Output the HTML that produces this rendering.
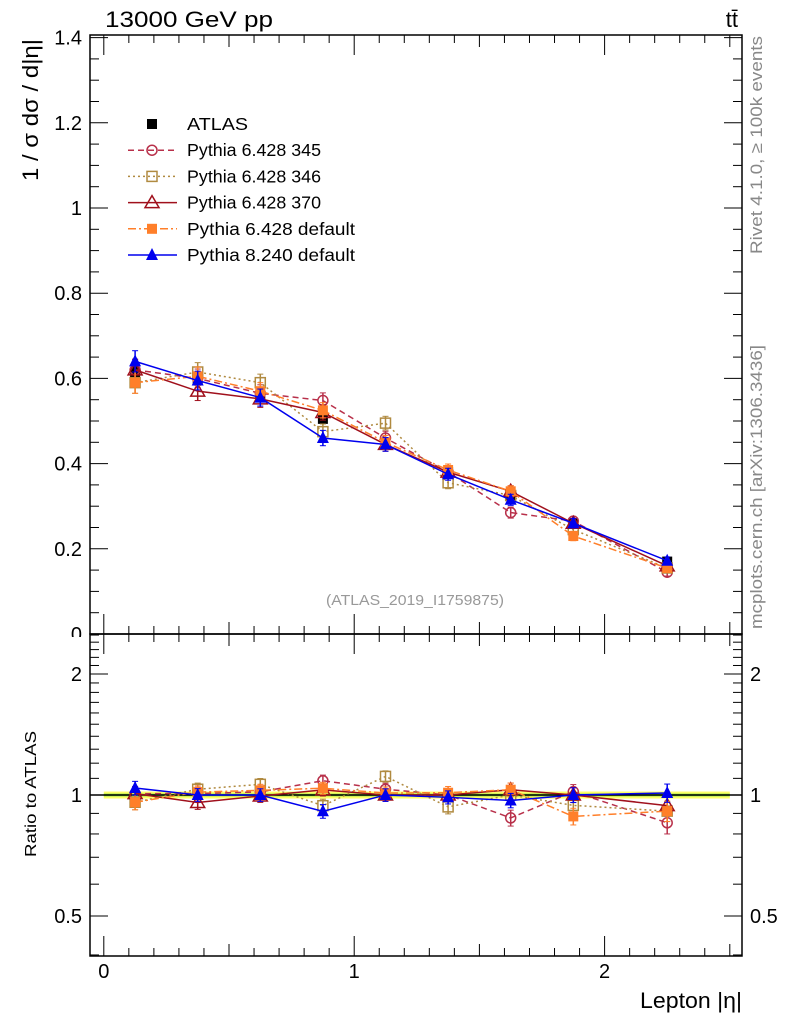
<!DOCTYPE html>
<html><head><meta charset="utf-8"><style>
body{margin:0;background:#fff;}
svg{display:block;font-family:"Liberation Sans",sans-serif;}
</style></head><body>
<svg id="chart" width="786" height="1024">
<g id="main"></g>
</svg>
<script>
const categories=[0.125,0.375,0.625,0.875,1.125,1.375,1.625,1.875,2.25];
const atlas=[0.615,0.595,0.555,0.505,0.445,0.38,0.325,0.26,0.17];
const atlasErr=[0.012,0.011,0.01,0.01,0.009,0.008,0.007,0.006,0.004];
const p345=[0.62,0.60,0.565,0.548,0.46,0.38,0.285,0.265,0.145];
const p346=[0.59,0.615,0.59,0.475,0.495,0.355,0.325,0.245,0.155];
const p370=[0.62,0.57,0.552,0.52,0.445,0.38,0.335,0.26,0.16];
const p6def=[0.59,0.605,0.57,0.525,0.45,0.385,0.335,0.23,0.155];
const p8=[0.64,0.595,0.555,0.46,0.445,0.375,0.315,0.26,0.172];
const mcErr=[0.025,0.022,0.02,0.018,0.016,0.014,0.013,0.011,0.009];
const yTicks=[0,0.2,0.4,0.6,0.8,1,1.2,1.4];
const yTickLabels=["0","0.2","0.4","0.6","0.8","1","1.2","1.4"];
const xTicks=[0,1,2];
const rTicks=[0.5,1,2];
const rTickLabels=["0.5","1","2"];

const NS="http://www.w3.org/2000/svg";
const svg=document.getElementById('main');
const L=90,R=742,T=35,M=634,B=956;
const X=v=>103.8+v*250.4;
const Y=v=>634-v*426;
const RY=r=>795-121*Math.log2(r);
function el(tag,attrs,parent){const e=document.createElementNS(NS,tag);for(const k in attrs)e.setAttribute(k,attrs[k]);(parent||svg).appendChild(e);return e;}
function txt(s,attrs){const t=el('text',attrs);t.textContent=s;return t;}

// y ticks main
for(let i=0;i<=28;i++){const v=i*0.05;const maj=i%4==0;const len=maj?18:9;
 el('line',{x1:L,x2:L+len,y1:Y(v),y2:Y(v),stroke:'#000','stroke-width':1});
 el('line',{x1:R,x2:R-len,y1:Y(v),y2:Y(v),stroke:'#000','stroke-width':1});}
yTicks.forEach((v,i)=>{const t=txt(yTickLabels[i],{x:82,y:Y(v)+7,'text-anchor':'end','font-size':20});
 
 });
// cover lower half of "0" label like reference
el('rect',{x:60,y:637,width:28,height:12,fill:'#fff'});
// x ticks
for(let i=0;i<=25;i++){const v=i*0.1;const maj=i%10==0;const len=maj?20:(i%5==0?12:8);
 el('line',{x1:X(v),x2:X(v),y1:T,y2:T+len,stroke:'#000'});
 el('line',{x1:X(v),x2:X(v),y1:M,y2:M-len,stroke:'#000'});
 el('line',{x1:X(v),x2:X(v),y1:M,y2:M+len,stroke:'#000'});
 el('line',{x1:X(v),x2:X(v),y1:B,y2:B-len,stroke:'#000'});}
xTicks.forEach(v=>{const t=txt(String(v),{x:X(v),y:978,'text-anchor':'middle','font-size':20});
 
 });
// ratio ticks
for(let k=4;k<=25;k++){const r=k/10;const maj=(k==5||k==10||k==20);const len=maj?18:9;
 if(RY(r)>B||RY(r)<M)continue;
 el('line',{x1:L,x2:L+len,y1:RY(r),y2:RY(r),stroke:'#000'});
 el('line',{x1:R,x2:R-len,y1:RY(r),y2:RY(r),stroke:'#000'});}
rTicks.forEach((r,i)=>{
 const t=txt(rTickLabels[i],{x:750,y:RY(r)+7,'font-size':20});
 
 
 const t2=txt(rTickLabels[i],{x:82,y:RY(r)+7,'font-size':20,'text-anchor':'end'});
 
 });

// ratio band
let band=el('rect',{x:X(0),y:RY(1.02),width:X(2.5)-X(0),height:RY(0.98)-RY(1.02),fill:'#ffff66'});


el('rect',{x:X(0),y:RY(1.008),width:X(2.5)-X(0),height:RY(0.992)-RY(1.008),fill:'#88dd44'});
el('line',{x1:L,x2:R,y1:RY(1),y2:RY(1),stroke:'#000','stroke-width':1.5});

// frames
let f1=el('rect',{x:L,y:T,width:R-L,height:M-T,fill:'none',stroke:'#000','stroke-width':1.5});


let f2=el('rect',{x:L,y:M,width:R-L,height:B-M,fill:'none',stroke:'#000','stroke-width':1.5});



function marker(kind,cx,cy,color,g){
 const s=5;
 if(kind=='sqf')el('rect',{x:cx-s,y:cy-s,width:2*s,height:2*s,fill:color},g);
 else if(kind=='sqo')el('rect',{x:cx-s,y:cy-s,width:2*s,height:2*s,fill:'none',stroke:color,'stroke-width':1.5},g);
 else if(kind=='circ')el('circle',{cx:cx,cy:cy,r:5,fill:'none',stroke:color,'stroke-width':1.5},g);
 else if(kind=='trio')el('polygon',{points:`${cx},${cy-7} ${cx-7},${cy+5} ${cx+7},${cy+5}`,fill:'none',stroke:color,'stroke-width':1.5},g);
 else if(kind=='trif')el('polygon',{points:`${cx},${cy-7} ${cx-6},${cy+5} ${cx+6},${cy+5}`,fill:color},g);
}
const series=[
 {name:'atlas',vals:atlas,err:atlasErr,color:'#000',kind:'sqf',dash:null},
 {name:'pythia-6428-345',vals:p345,err:mcErr,color:'#b8304a',kind:'circ',dash:'6,4'},
 {name:'pythia-6428-346',vals:p346,err:mcErr,color:'#b08a40',kind:'sqo',dash:'2,3'},
 {name:'pythia-6428-370',vals:p370,err:mcErr,color:'#a0101c',kind:'trio',dash:''},
 {name:'pythia-6428-default',vals:p6def,err:mcErr,color:'#ff7f2a',kind:'sqf',dash:'8,3,2,3'},
 {name:'pythia-8240-default',vals:p8,err:mcErr,color:'#0000ee',kind:'trif',dash:''},
];
series.forEach((s,si)=>{
 const g=el('g',{});
 
 
 const gr=el('g',{});
 
 
 if(si>0){
  const pts=categories.map((c,i)=>X(c)+','+Y(s.vals[i])).join(' ');
  const pl=el('polyline',{points:pts,fill:'none',stroke:s.color,'stroke-width':1.5},g);
  if(s.dash)pl.setAttribute('stroke-dasharray',s.dash);
  const rpts=categories.map((c,i)=>X(c)+','+RY(s.vals[i]/atlas[i])).join(' ');
  const rl=el('polyline',{points:rpts,fill:'none',stroke:s.color,'stroke-width':1.5},gr);
  if(s.dash)rl.setAttribute('stroke-dasharray',s.dash);
 }
 categories.forEach((c,i)=>{
  const v=s.vals[i],e=s.err[i],cx=X(c);
  el('line',{x1:cx,x2:cx,y1:Y(v-e),y2:Y(v+e),stroke:s.color,'stroke-width':1.5},g);
  el('line',{x1:cx-3,x2:cx+3,y1:Y(v-e),y2:Y(v-e),stroke:s.color},g);
  el('line',{x1:cx-3,x2:cx+3,y1:Y(v+e),y2:Y(v+e),stroke:s.color},g);
  marker(s.kind,cx,Y(v),s.color,g);
  if(si>0){const r=v/atlas[i],re=e/atlas[i];
   el('line',{x1:cx,x2:cx,y1:RY(r-re),y2:RY(r+re),stroke:s.color,'stroke-width':1.5},gr);
   el('line',{x1:cx-3,x2:cx+3,y1:RY(r-re),y2:RY(r-re),stroke:s.color},gr);
   el('line',{x1:cx-3,x2:cx+3,y1:RY(r+re),y2:RY(r+re),stroke:s.color},gr);
   marker(s.kind,cx,RY(r),s.color,gr);}
 });
});

// legend
const legendLabels=['ATLAS','Pythia 6.428 345','Pythia 6.428 346','Pythia 6.428 370','Pythia 6.428 default','Pythia 8.240 default'];
series.forEach((s,i)=>{
 const y=124+i*26.2;
 const g=el('g',{});
 
 
 if(i>0){const ln=el('line',{x1:128,x2:177,y1:y,y2:y,stroke:s.color,'stroke-width':1.5},g);if(s.dash)ln.setAttribute('stroke-dasharray',s.dash);}
 marker(s.kind,152,y,s.color,g);
 const t=el('text',{x:187,y:y+6,'font-size':17.5,textLength:(i==0?61:(i>=4?168:134)),lengthAdjust:'spacingAndGlyphs'},g);t.textContent=legendLabels[i];
});

function label(s,attrs,name){const t=txt(s,attrs);return t;}
label('13000 GeV pp',{x:105,y:27,'font-size':22,textLength:168,lengthAdjust:'spacingAndGlyphs'},'collision-label');
label('tt̄',{x:738,y:27,'font-size':22,'text-anchor':'end'},'process-label');
label('1 / σ  dσ / d|η|',{x:0,y:0,'font-size':22,'text-anchor':'middle',transform:'translate(38,110) rotate(-90)',textLength:142,lengthAdjust:'spacingAndGlyphs'},'y-axis-title');
label('Ratio to ATLAS',{x:0,y:0,'font-size':16,'text-anchor':'middle',transform:'translate(36,794) rotate(-90)',textLength:126,lengthAdjust:'spacingAndGlyphs'},'ratio-axis-title');
label('Lepton |η|',{x:742,y:1008,'font-size':22,'text-anchor':'end',textLength:102,lengthAdjust:'spacingAndGlyphs'},'x-axis-title');
label('(ATLAS_2019_I1759875)',{x:415,y:605,'font-size':15,fill:'#999','text-anchor':'middle',textLength:178,lengthAdjust:'spacingAndGlyphs'},'analysis-id');
label('Rivet 4.1.0, ≥ 100k events',{x:0,y:0,'font-size':17,fill:'#888','text-anchor':'middle',transform:'translate(762,145) rotate(-90)',textLength:218,lengthAdjust:'spacingAndGlyphs'},'rivet-version');
label('mcplots.cern.ch [arXiv:1306.3436]',{x:0,y:0,'font-size':17,fill:'#888','text-anchor':'middle',transform:'translate(762,487) rotate(-90)',textLength:284,lengthAdjust:'spacingAndGlyphs'},'mcplots-credit');
</script>
</body></html>
